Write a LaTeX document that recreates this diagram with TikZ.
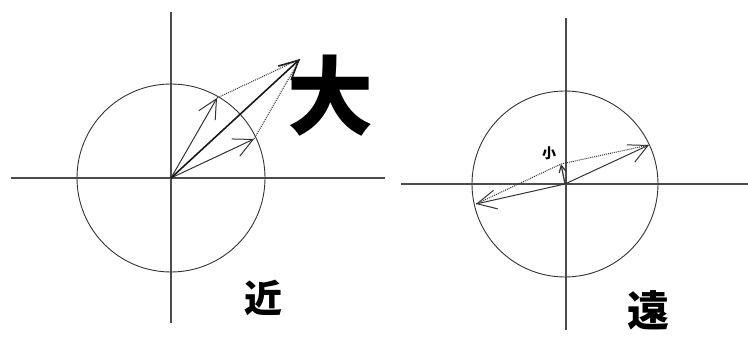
\documentclass[tikz,border=0pt]{standalone}
\usepackage{fontspec}
\newfontfamily\cjk{Noto Sans CJK JP}
\usetikzlibrary{arrows.meta, positioning}

\begin{document}
\begin{tikzpicture}[
    x=1pt, y=-1pt,
    axis/.style={line width=1.4pt, black!70},
    ring/.style={line width=0.9pt, black!80},
    vec/.style={->, line width=1pt, black!80},
    bigvec/.style={->, line width=1.6pt, black!90},
    side/.style={densely dotted, line width=1pt, black!80},
    word/.style={font=\cjk\bfseries, inner sep=0pt},
    >={Straight Barb[length=19pt, width=19pt]}
]
\useasboundingbox (0,0) rectangle (748,352);

% near
\coordinate (o1) at (171,178);
\coordinate (a1) at (217,98);
\coordinate (b1) at (254,139);
\coordinate (s1) at (300,59);

\draw[axis] (11,178) -- (385,178);
\draw[axis] (171,12) -- (171,323);
\draw[ring] (o1) circle (94);

\draw[vec] (o1) -- (a1);
\draw[vec] (o1) -- (b1);
\draw[bigvec] (o1) -- (s1);
\draw[side] (a1) -- (s1);
\draw[side] (b1) -- (s1);

\node[word, font=\cjk\bfseries\fontsize{86}{86}\selectfont] (big) at (330,96) {大};
\node[word, font=\cjk\bfseries\fontsize{38}{38}\selectfont] (near) at (263,298) {近};

% far
\coordinate (o2) at (565,184);
\coordinate (a2) at (476,204);
\coordinate (b2) at (649,145);
\coordinate (s2) at (561,164);

\draw[axis] (401,184) -- (748,184);
\draw[axis] (566,18) -- (566,330);
\draw[ring] (o2) circle (93);

\draw[vec] (o2) -- (a2);
\draw[vec] (o2) -- (b2);
\draw[vec, >={Straight Barb[length=7pt, width=7pt]}, line width=1.2pt] (o2) -- (s2);
\draw[side] (a2) -- (s2);
\draw[side] (s2) -- (b2);

\node[word, font=\cjk\bfseries\fontsize{14}{14}\selectfont] (small) at (549,153) {小};
\node[word, font=\cjk\bfseries\fontsize{42}{42}\selectfont] (far) at (648,310) {遠};

\end{tikzpicture}
\end{document}
